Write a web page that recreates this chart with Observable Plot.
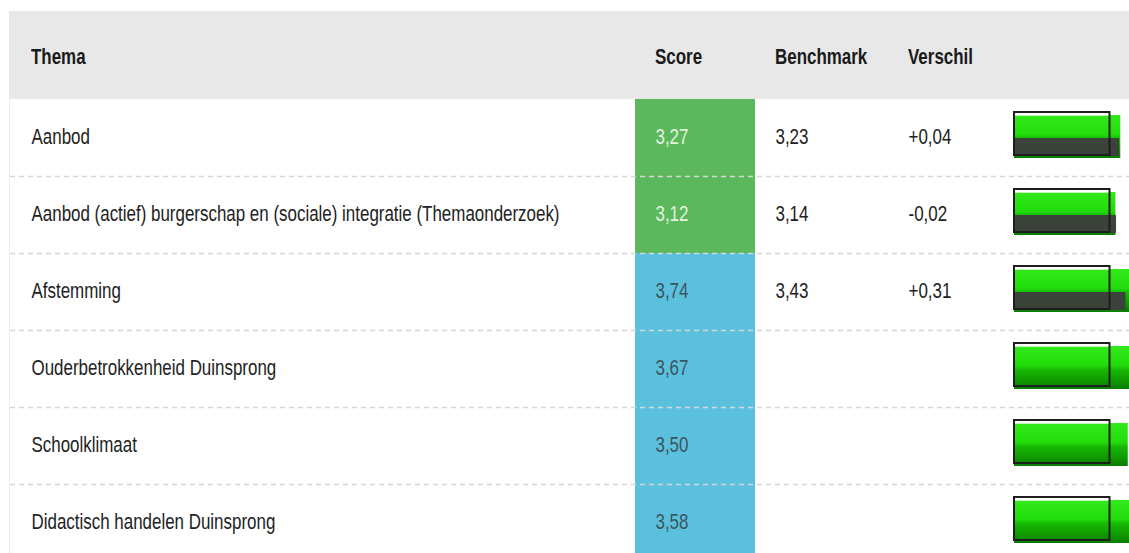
<!DOCTYPE html>
<html><head><meta charset="utf-8">
<script src="https://cdn.jsdelivr.net/npm/d3@7"></script>
<script src="https://cdn.jsdelivr.net/npm/@observablehq/plot@0.6"></script>
<style>
html,body{margin:0;padding:0;background:#fff;overflow:hidden;width:1129px;height:553px;position:relative}
body{font-family:"Liberation Sans",Arial,sans-serif;}
#head{position:absolute;left:9px;top:11px;width:1120px;height:88px;background:#e8e8e8;}
#head span{position:absolute;top:35px;line-height:22px;font-weight:bold;font-size:22px;color:#1a1a1a;transform:scaleX(0.77);transform-origin:0 0;white-space:nowrap}
#edge{position:absolute;left:9px;top:99px;width:1px;height:454px;background:#ececec}
#chart{position:absolute;left:0;top:99px}
</style></head>
<body>
<div id="head"></div>
<div id="edge"></div>
<div id="chart"></div>
<script>
const kolommen = ["Thema", "Score", "Benchmark", "Verschil"];
const themas = [
  "Aanbod",
  "Aanbod (actief) burgerschap en (sociale) integratie (Themaonderzoek)",
  "Afstemming",
  "Ouderbetrokkenheid Duinsprong",
  "Schoolklimaat",
  "Didactisch handelen Duinsprong"
];
const scores = [3.27, 3.12, 3.74, 3.67, 3.50, 3.58];
const benchmarks = [3.23, 3.14, 3.43, null, null, null];
const verschillen = [0.04, -0.02, 0.31, null, null, null];
const kleuren = ["groen", "groen", "blauw", "blauw", "blauw", "blauw"];
const referentie = 3;

// layout (pixels)
const kolomX = [31, 655, 775, 908];
const smal = 0.77; // condensed look

const head = document.getElementById("head");
kolommen.forEach((k, i) => {
  const s = document.createElement("span");
  s.textContent = k;
  s.style.left = (kolomX[i] - 9) + "px";
  head.appendChild(s);
});

const rows = themas.map((t, i) => ({
  thema: t, score: scores[i], benchmark: benchmarks[i], verschil: verschillen[i],
  kleur: kleuren[i], ref: referentie
}));
const metBench = rows.filter(d => d.benchmark != null);
const fmt = v => d3.format(".2f")(v).replace("\u2212", "-").replace(".", ",");
const fmtS = v => (v > 0 ? "+" : "") + fmt(v);

const font = '"Liberation Sans",Arial,sans-serif';
const tx = {frameAnchor: "left", textAnchor: "start", dy: -1.5};

const chart = Plot.plot({
  width: 1129, height: 454, margin: 0,
  x: {domain: [0, 4], range: [1014, 1144], axis: null},
  y: {domain: themas, range: [0, 462], padding: 0, axis: null},
  color: {domain: ["groen", "blauw"], range: ["#5cb85c", "#5bc0de"]},
  style: {fontFamily: font, fontSize: "22px", background: "transparent", overflow: "visible"},
  marks: [
    Plot.rect(rows, {y: "thema", fill: "kleur", insetLeft: 635, insetRight: 374}),
    Plot.ruleY(themas.slice(1), {stroke: "#d6d6d6", strokeWidth: 1.5, strokeDasharray: "5,4", dy: -38.5, insetLeft: 10}),
    Plot.text(rows, {...tx, y: "thema", text: "thema", dx: 31, fill: "#222"}),
    Plot.text(rows.filter(d => d.kleur === "groen"), {...tx, y: "thema", text: d => fmt(d.score), dx: 655, fill: "#e2f2dc"}),
    Plot.text(rows.filter(d => d.kleur === "blauw"), {...tx, y: "thema", text: d => fmt(d.score), dx: 655, fill: "#3b5560"}),
    Plot.text(metBench, {...tx, y: "thema", text: d => fmt(d.benchmark), dx: 775, fill: "#222"}),
    Plot.text(metBench, {...tx, y: "thema", text: d => fmtS(d.verschil), dx: 908, fill: "#222"}),
    Plot.barX(rows, {x: "score", y: "thema", fill: "url(#groenGrad)", insetTop: 16, insetBottom: 18}),
    Plot.barX(metBench, {x: "benchmark", y: "thema", fill: "#3d3d3d", fillOpacity: 0.95, insetTop: 39, insetBottom: 20}),
    Plot.barX(rows, {x: "ref", y: "thema", fill: "white", fillOpacity: 0.7, insetTop: 15, insetBottom: 60, insetRight: 2}),
    Plot.barX(rows, {x: "ref", y: "thema", fill: "none", stroke: "#1e1e1e", strokeWidth: 2, insetTop: 13, insetBottom: 21, insetRight: 2})
  ]
});

// condensed text: horizontal scale around each label's anchor
d3.select(chart).selectAll("text").each(function() {
  const t = this.getAttribute("transform") || "";
  this.setAttribute("transform", t + ` scale(${smal},1)`);
});

const defs = d3.select(chart).insert("defs", ":first-child");
const g = defs.append("linearGradient").attr("id", "groenGrad").attr("x1", 0).attr("y1", 0).attr("x2", 0).attr("y2", 1);
[["0%", "#33ea1c"], ["45%", "#22dc0a"], ["55%", "#17b804"], ["80%", "#0f9a00"], ["100%", "#0a7c00"]]
  .forEach(([o, c]) => g.append("stop").attr("offset", o).attr("stop-color", c));

document.getElementById("chart").appendChild(chart);
</script>
</body></html>
